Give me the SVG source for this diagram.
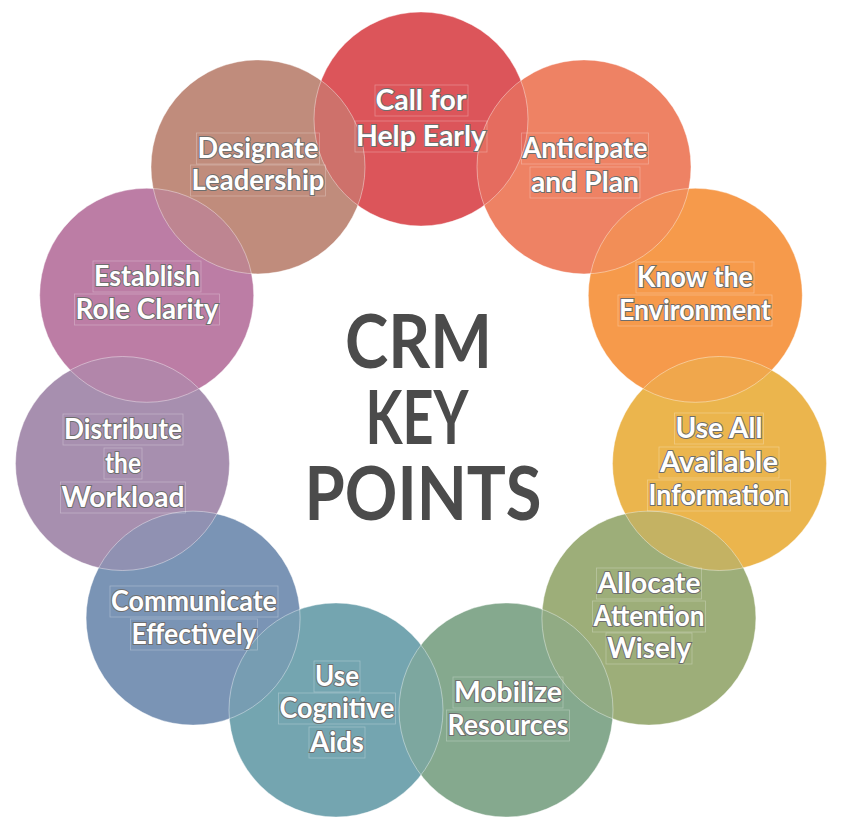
<svg xmlns="http://www.w3.org/2000/svg" width="849" height="829" viewBox="0 0 849 829">
<style>
.s{fill:none;stroke:#ffffff;stroke-opacity:0.4;stroke-width:1}
.lens{opacity:0.5}
.t{font-family:Lato,"Open Sans","Liberation Sans",sans-serif;font-weight:700;font-size:28px;fill:#ffffff;stroke:#6e6e6e;stroke-width:2;paint-order:stroke fill;text-anchor:middle}
.b{fill:none;stroke:#ffffff;stroke-opacity:0.3;stroke-width:0.8}
.title{font-family:Lato,"Open Sans","Liberation Sans",sans-serif;font-weight:700;font-size:74px;fill:#4b4b4b;text-anchor:middle}
</style>
<defs>
<circle id="c0" cx="421" cy="119" r="107"/>
<circle id="c1" cx="584" cy="166.9" r="107"/>
<circle id="c2" cx="695.3" cy="295.3" r="107"/>
<circle id="c3" cx="719.5" cy="463.5" r="107"/>
<circle id="c4" cx="648.9" cy="618.1" r="107"/>
<circle id="c5" cx="506" cy="710" r="107"/>
<circle id="c6" cx="336" cy="710" r="107"/>
<circle id="c7" cx="193.1" cy="618.1" r="107"/>
<circle id="c8" cx="122.5" cy="463.5" r="107"/>
<circle id="c9" cx="146.7" cy="295.3" r="107"/>
<circle id="c10" cx="258" cy="166.9" r="107"/>
<clipPath id="k0"><use href="#c0"/></clipPath>
<clipPath id="k1"><use href="#c1"/></clipPath>
<clipPath id="k2"><use href="#c2"/></clipPath>
<clipPath id="k3"><use href="#c3"/></clipPath>
<clipPath id="k4"><use href="#c4"/></clipPath>
<clipPath id="k5"><use href="#c5"/></clipPath>
<clipPath id="k6"><use href="#c6"/></clipPath>
<clipPath id="k7"><use href="#c7"/></clipPath>
<clipPath id="k8"><use href="#c8"/></clipPath>
<clipPath id="k9"><use href="#c9"/></clipPath>
<clipPath id="k10"><use href="#c10"/></clipPath>
</defs>
<rect width="849" height="829" fill="#ffffff"/>
<g id="connectors"></g>
<g id="circles">
<use href="#c0" fill="#DC555A"/>
<use href="#c1" fill="#EE8264"/>
<use href="#c2" fill="#F69A4B"/>
<use href="#c3" fill="#EBB54D"/>
<use href="#c4" fill="#9DAE79"/>
<use href="#c5" fill="#85A98E"/>
<use href="#c6" fill="#74A5B0"/>
<use href="#c7" fill="#7A94B5"/>
<use href="#c8" fill="#A78FAF"/>
<use href="#c9" fill="#BC7DA5"/>
<use href="#c10" fill="#C08C7C"/>
</g>
<g id="overlaps">
<use class="lens" href="#c0" fill="#DC555A" clip-path="url(#k1)"/>
<use class="lens" href="#c1" fill="#EE8264" clip-path="url(#k2)"/>
<use class="lens" href="#c2" fill="#F69A4B" clip-path="url(#k3)"/>
<use class="lens" href="#c3" fill="#EBB54D" clip-path="url(#k4)"/>
<use class="lens" href="#c4" fill="#9DAE79" clip-path="url(#k5)"/>
<use class="lens" href="#c5" fill="#85A98E" clip-path="url(#k6)"/>
<use class="lens" href="#c6" fill="#74A5B0" clip-path="url(#k7)"/>
<use class="lens" href="#c7" fill="#7A94B5" clip-path="url(#k8)"/>
<use class="lens" href="#c8" fill="#A78FAF" clip-path="url(#k9)"/>
<use class="lens" href="#c9" fill="#BC7DA5" clip-path="url(#k10)"/>
<use class="lens" href="#c0" fill="#DC555A" clip-path="url(#k10)"/>
</g>
<g id="outlines">
<use class="s" href="#c0"/><use class="s" href="#c1"/><use class="s" href="#c2"/><use class="s" href="#c3"/>
<use class="s" href="#c4"/><use class="s" href="#c5"/><use class="s" href="#c6"/><use class="s" href="#c7"/>
<use class="s" href="#c8"/><use class="s" href="#c9"/><use class="s" href="#c10"/>
</g>
<g id="node-call">
<rect class="b" x="375" y="85" width="93" height="31"/><rect class="b" x="355" y="121" width="132" height="31"/>
<text class="t" x="421" y="110" textLength="91" lengthAdjust="spacingAndGlyphs">Call for</text>
<text class="t" x="421" y="146" textLength="130" lengthAdjust="spacingAndGlyphs">Help Early</text>
</g>
<g id="node-anticipate">
<rect class="b" x="521.5" y="133" width="127" height="31"/><rect class="b" x="530" y="167" width="110" height="31"/>
<text class="t" x="585" y="158" textLength="125" lengthAdjust="spacingAndGlyphs">Anticipate</text>
<text class="t" x="585" y="192" textLength="108" lengthAdjust="spacingAndGlyphs">and Plan</text>
</g>
<g id="node-know">
<rect class="b" x="636" y="262" width="118" height="31"/><rect class="b" x="618" y="295" width="154" height="31"/>
<text class="t" x="695" y="287" textLength="116" lengthAdjust="spacingAndGlyphs">Know the</text>
<text class="t" x="695" y="320" textLength="152" lengthAdjust="spacingAndGlyphs">Environment</text>
</g>
<g id="node-useall">
<rect class="b" x="674.5" y="413" width="89" height="31"/><rect class="b" x="659" y="447" width="120" height="31"/><rect class="b" x="647.5" y="480" width="143" height="31"/>
<text class="t" x="719" y="438" textLength="87" lengthAdjust="spacingAndGlyphs">Use All</text>
<text class="t" x="719" y="472" textLength="118" lengthAdjust="spacingAndGlyphs">Available</text>
<text class="t" x="719" y="505" textLength="141" lengthAdjust="spacingAndGlyphs">Information</text>
</g>
<g id="node-allocate">
<rect class="b" x="596.5" y="568" width="105" height="31"/><rect class="b" x="592.5" y="601" width="113" height="31"/><rect class="b" x="606" y="633" width="86" height="31"/>
<text class="t" x="649" y="593" textLength="103" lengthAdjust="spacingAndGlyphs">Allocate</text>
<text class="t" x="649" y="626" textLength="111" lengthAdjust="spacingAndGlyphs">Attention</text>
<text class="t" x="649" y="658" textLength="84" lengthAdjust="spacingAndGlyphs">Wisely</text>
</g>
<g id="node-mobilize">
<rect class="b" x="453" y="677" width="110" height="31"/><rect class="b" x="446.5" y="710" width="123" height="31"/>
<text class="t" x="508" y="702" textLength="108" lengthAdjust="spacingAndGlyphs">Mobilize</text>
<text class="t" x="508" y="735" textLength="121" lengthAdjust="spacingAndGlyphs">Resources</text>
</g>
<g id="node-cognitive">
<rect class="b" x="314" y="661" width="46" height="31"/><rect class="b" x="278.5" y="693" width="117" height="31"/><rect class="b" x="309" y="727" width="56" height="31"/>
<text class="t" x="337" y="686" textLength="44" lengthAdjust="spacingAndGlyphs">Use</text>
<text class="t" x="337" y="718" textLength="115" lengthAdjust="spacingAndGlyphs">Cognitive</text>
<text class="t" x="337" y="752" textLength="54" lengthAdjust="spacingAndGlyphs">Aids</text>
</g>
<g id="node-communicate">
<rect class="b" x="110" y="586" width="168" height="31"/><rect class="b" x="130.5" y="619" width="127" height="31"/>
<text class="t" x="194" y="611" textLength="166" lengthAdjust="spacingAndGlyphs">Communicate</text>
<text class="t" x="194" y="644" textLength="125" lengthAdjust="spacingAndGlyphs">Effectively</text>
</g>
<g id="node-distribute">
<rect class="b" x="63" y="414" width="120" height="31"/><rect class="b" x="104" y="448" width="38" height="31"/><rect class="b" x="60.5" y="482" width="125" height="31"/>
<text class="t" x="123" y="439" textLength="118" lengthAdjust="spacingAndGlyphs">Distribute</text>
<text class="t" x="123" y="473" textLength="36" lengthAdjust="spacingAndGlyphs">the</text>
<text class="t" x="123" y="507" textLength="123" lengthAdjust="spacingAndGlyphs">Workload</text>
</g>
<g id="node-establish">
<rect class="b" x="93" y="261" width="108" height="31"/><rect class="b" x="74.5" y="294" width="145" height="31"/>
<text class="t" x="147" y="286" textLength="106" lengthAdjust="spacingAndGlyphs">Establish</text>
<text class="t" x="147" y="319" textLength="143" lengthAdjust="spacingAndGlyphs">Role Clarity</text>
</g>
<g id="node-designate">
<rect class="b" x="196.5" y="133" width="123" height="31"/><rect class="b" x="190.5" y="165" width="135" height="31"/>
<text class="t" x="258" y="158" textLength="121" lengthAdjust="spacingAndGlyphs">Designate</text>
<text class="t" x="258" y="190" textLength="133" lengthAdjust="spacingAndGlyphs">Leadership</text>
</g>
<g id="title">
<text class="title" x="418.5" y="368" textLength="147" lengthAdjust="spacingAndGlyphs">CRM</text>
<text class="title" x="417" y="444" textLength="103" lengthAdjust="spacingAndGlyphs">KEY</text>
<text class="title" x="423" y="520" textLength="237" lengthAdjust="spacingAndGlyphs">POINTS</text>
</g>
</svg>
